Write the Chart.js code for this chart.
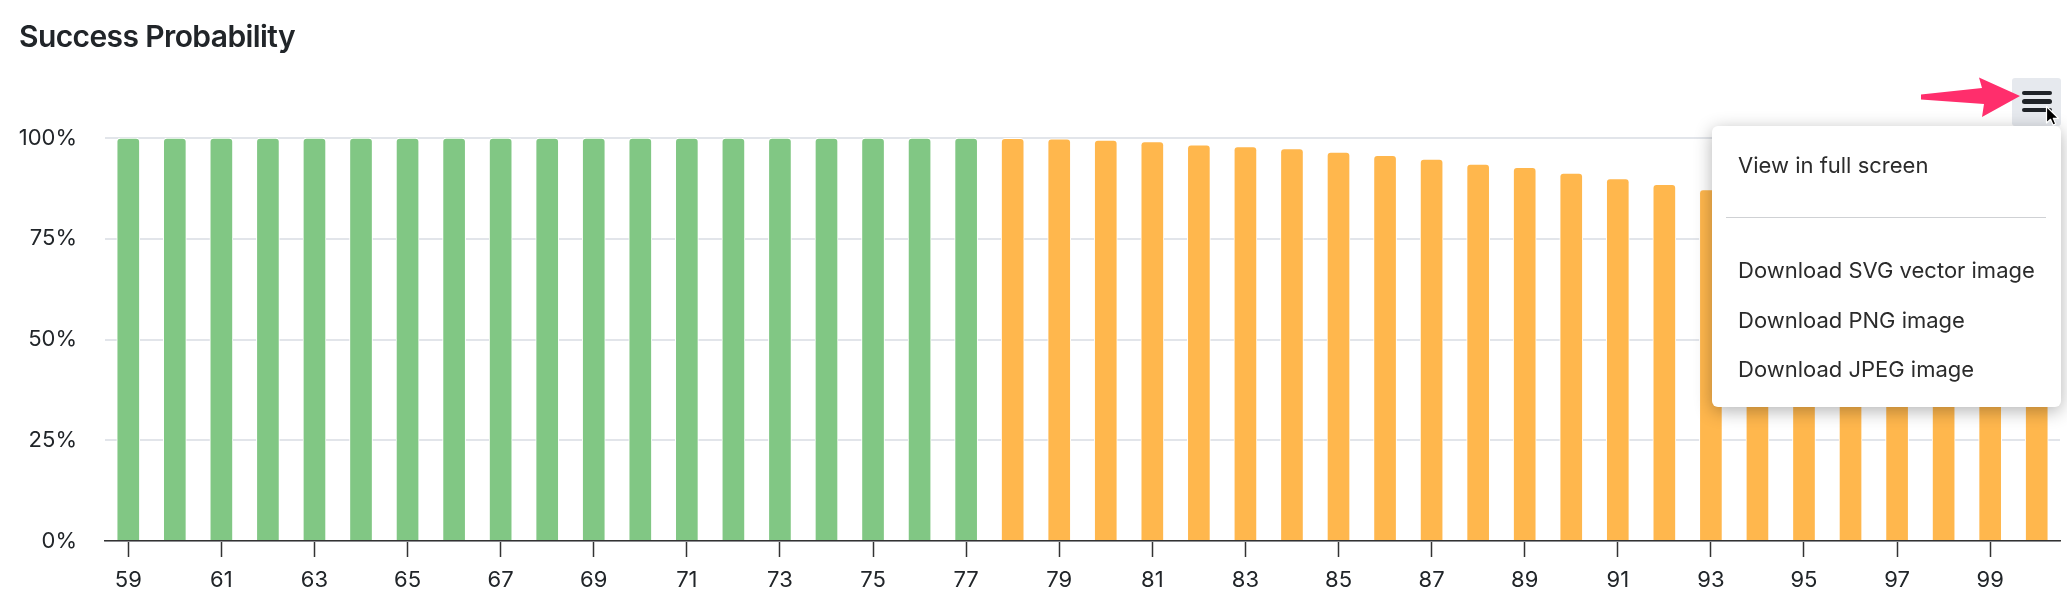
<!DOCTYPE html>
<html>
<head>
<meta charset="utf-8">
<script src="https://cdn.jsdelivr.net/npm/chart.js@4/dist/chart.umd.min.js"></script>
<style>
  html, body { margin: 0; padding: 0; background: #ffffff; }
  #wrap { position: relative; width: 2067px; height: 613px; overflow: hidden; font-family: Inter, "Noto Sans", sans-serif; }
  #chartBox { position: absolute; left: 0; top: 0; width: 2067px; height: 613px; }
  #title { position: absolute; left: 19px; top: 21px; font-size: 30px; line-height: 30px; font-weight: 600; color: #212529; letter-spacing: -0.6px; white-space: nowrap; }
  #btn { position: absolute; left: 2012px; top: 78px; width: 49px; height: 48px; background: #e6e9ee; border-radius: 3px; }
  .bar { position: absolute; left: 10px; width: 30px; height: 4.8px; background: #1f2328; border-radius: 3px; }
  #menu { position: absolute; left: 1712px; top: 126px; width: 349px; height: 281px; background: #ffffff; border-radius: 6px; box-shadow: 0 4px 18px rgba(0,0,0,0.30); }
  .item { position: absolute; left: 26px; font-size: 22px; line-height: 22px; color: #2b2b2b; letter-spacing: 0px; white-space: nowrap; font-optical-sizing: none; font-variation-settings: "opsz" 14; }
  #sep { position: absolute; left: 14px; top: 91px; width: 320px; height: 1px; background: #cfd1d4; }
  #overlay { position: absolute; left: 0; top: 0; pointer-events: none; }
</style>
</head>
<body>
<div id="wrap">
  <div id="chartBox"><canvas id="c"></canvas></div>
  <div id="title">Success Probability</div>
  <div id="btn">
    <div class="bar" style="top:12.5px"></div>
    <div class="bar" style="top:20.8px"></div>
    <div class="bar" style="top:29.5px"></div>
  </div>
  <div id="menu">
    <div class="item" style="top:28px">View in full screen</div>
    <div id="sep"></div>
    <div class="item" style="top:133px">Download SVG vector image</div>
    <div class="item" style="top:183px">Download PNG image</div>
    <div class="item" style="top:232px">Download JPEG image</div>
  </div>
  <svg id="overlay" width="2067" height="613" viewBox="0 0 2067 613">
    <polygon points="1921,94.5 1982,88 1979,77.5 2020,96 1982,117 1984,104 1921,99.5" fill="#ff2e6c"/>
    <g transform="translate(2046.5,106.5)">
      <path d="M0,0 L0,16.5 L4,12.8 L6.6,18.6 L9.3,17.4 L6.8,11.8 L12,11.8 Z" fill="#000" stroke="#fff" stroke-width="1.2" stroke-linejoin="round"/>
    </g>
  </svg>
</div>
<script>
// ---- data ----
const categories = [59,60,61,62,63,64,65,66,67,68,69,70,71,72,73,74,75,76,77,78,79,80,81,82,83,84,85,86,87,88,89,90,91,92,93,94,95,96,97,98,99,100];
const probabilities = [100,100,100,100,100,100,100,100,100,100,100,100,100,100,100,100,100,100,100,
  99.9,99.8,99.5,99.1,98.3,97.9,97.4,96.5,95.7,94.8,93.5,92.7,91.3,89.9,88.5,87.2,85.6,84.0,82.3,80.5,78.6,76.6,74.5];
const lastGreenCategory = 77;
const yTicks = [0,25,50,75,100];

const GREEN = '#81c784';
const ORANGE = '#ffb74d';
const TEXT = '#212529';

new Chart(document.getElementById('c'), {
  type: 'bar',
  data: {
    labels: categories,
    datasets: [{
      data: probabilities,
      backgroundColor: ctx => categories[ctx.index] <= lastGreenCategory ? GREEN : ORANGE,
      borderColor: '#ffffff',
      borderWidth: 1,
      borderSkipped: 'bottom',
      borderRadius: { topLeft: 4, topRight: 4, bottomLeft: 0, bottomRight: 0 },
      barThickness: 23
    }]
  },
  options: {
    responsive: true,
    maintainAspectRatio: false,
    animation: false,
    events: [],
    layout: { padding: { top: 138, right: 7, bottom: 0, left: 0 } },
    plugins: { legend: { display: false }, tooltip: { enabled: false }, title: { display: false } },
    scales: {
      x: {
        offset: true,
        grid: { drawOnChartArea: false, drawTicks: true, tickLength: 16, tickColor: '#333333', tickWidth: 1.5, offset: false },
        border: { display: true, color: '#333333', width: 1.5 },
        ticks: {
          autoSkip: false, maxRotation: 0, minRotation: 0, padding: 10,
          color: TEXT, font: { family: 'Inter', size: 22 },
          callback: (v, i) => (i % 2 === 0 ? String(categories[i]) : null)
        },
        afterFit: s => { s.height = 72; }
      },
      y: {
        min: 0, max: 100,
        afterBuildTicks: s => { s.ticks = yTicks.map(v => ({ value: v })); },
        grid: { color: '#e2e5ea', lineWidth: 2, drawTicks: false },
        border: { display: false },
        ticks: { padding: 28, color: TEXT, font: { family: 'Inter', size: 22 }, callback: v => v + '%' },
        afterFit: s => { s.width = 105; }
      }
    }
  }
});
</script>
</body>
</html>
